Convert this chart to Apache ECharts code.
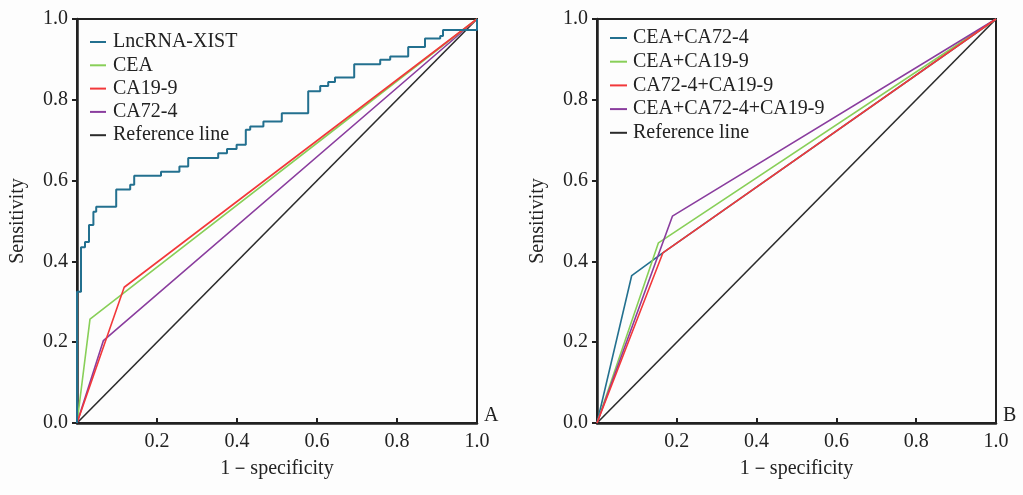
<!DOCTYPE html>
<html><head><meta charset="utf-8">
<script src="https://cdn.jsdelivr.net/npm/echarts@6/dist/echarts.min.js"></script>
<style>html,body{margin:0;padding:0;background:#fdfdfd}#c{width:1023px;height:495px}</style>
</head><body><div id="c"></div>
<script>
// ---- Data (1-specificity, sensitivity) ----
const xTicks = [0, 0.2, 0.4, 0.6, 0.8, 1.0];
const lncXIST = [[0,0],[0,0.325],[0.01,0.325],[0.01,0.435],[0.02,0.435],[0.02,0.448],[0.03,0.448],[0.03,0.49],[0.041,0.49],[0.041,0.523],[0.048,0.523],[0.048,0.535],[0.098,0.535],[0.098,0.578],[0.133,0.578],[0.133,0.590],[0.143,0.590],[0.143,0.612],[0.21,0.612],[0.21,0.622],[0.256,0.622],[0.256,0.635],[0.278,0.635],[0.278,0.656],[0.353,0.656],[0.353,0.668],[0.375,0.668],[0.375,0.678],[0.399,0.678],[0.399,0.689],[0.422,0.689],[0.422,0.726],[0.433,0.726],[0.433,0.734],[0.466,0.734],[0.466,0.746],[0.512,0.746],[0.512,0.767],[0.578,0.767],[0.578,0.821],[0.608,0.821],[0.608,0.834],[0.628,0.834],[0.628,0.844],[0.645,0.844],[0.645,0.855],[0.693,0.855],[0.693,0.888],[0.758,0.888],[0.758,0.899],[0.783,0.899],[0.783,0.907],[0.828,0.907],[0.828,0.931],[0.87,0.931],[0.87,0.952],[0.908,0.952],[0.908,0.958],[0.915,0.958],[0.915,0.973],[1,0.973],[1,1]];
const cea = [[0,0],[0.0325,0.257],[1,1]];
const ca199 = [[0,0],[0.118,0.336],[1,1]];
const ca724 = [[0,0],[0.066,0.204],[1,1]];
const refLine = [[0,0],[1,1]];
const ceaCa724 = [[0,0],[0.087,0.365],[0.165,0.421],[1,1]];
const ceaCa199 = [[0,0],[0.154,0.446],[1,1]];
const ca724Ca199 = [[0,0],[0.165,0.421],[1,1]];
const ceaCa724Ca199 = [[0,0],[0.189,0.512],[1,1]];
const namesA = ['LncRNA-XIST','CEA','CA19-9','CA72-4','Reference line'];
const namesB = ['CEA+CA72-4','CEA+CA19-9','CA72-4+CA19-9','CEA+CA72-4+CA19-9','Reference line'];

const C = {blue:'#23708f', green:'#88cf58', red:'#f2383a', purple:'#8a3d9e', black:'#2b2b2b'};
const font = 'Liberation Serif';
const fs = 20;

function xAx(gi){return {type:'value',gridIndex:gi,min:0,max:1,interval:0.2,
  name:'1－specificity',nameLocation:'middle',nameGap:36,nameTextStyle:{fontFamily:font,fontSize:fs,color:'#222'},
  axisLine:{onZero:false,lineStyle:{color:'#222',width:2.5}},
  axisTick:{inside:true,length:5,lineStyle:{color:'#222',width:2}},
  axisLabel:{fontFamily:font,fontSize:fs,color:'#222',margin:9,formatter:v=>v===0?'':v.toFixed(1)},
  splitLine:{show:false}};}
function yAx(gi){return {type:'value',gridIndex:gi,min:0,max:1,interval:0.2,
  name:'Sensitivity',nameLocation:'middle',nameGap:49,nameTextStyle:{fontFamily:font,fontSize:fs,color:'#222'},
  axisLine:{lineStyle:{color:'#222',width:2.5}},
  axisTick:{inside:false,length:5,lineStyle:{color:'#222',width:2}},
  axisLabel:{fontFamily:font,fontSize:fs,color:'#222',margin:9,formatter:v=>v.toFixed(1)},
  splitLine:{show:false}};}
function ser(name,data,color,gi,step){return {name,type:'line',xAxisIndex:gi,yAxisIndex:gi,data,
  showSymbol:false,symbol:'none',lineStyle:{color,width:step?2:1.6},itemStyle:{color},animation:false};}

const chart = echarts.init(document.getElementById('c'));
chart.setOption({
  backgroundColor:'#fdfdfd',
  animation:false,
  grid:[{left:77,top:19,width:400,height:404,show:true,borderColor:'#222',borderWidth:2,backgroundColor:'transparent'},
        {left:597,top:19,width:399,height:404,show:true,borderColor:'#222',borderWidth:2,backgroundColor:'transparent'}],
  xAxis:[xAx(0),xAx(1)],
  yAxis:[yAx(0),yAx(1)],
  legend:[
    {data:namesA,orient:'vertical',left:85,top:27,itemWidth:16,itemHeight:2,itemGap:3.3,icon:'rect',
     textStyle:{fontFamily:font,fontSize:fs,color:'#222',padding:[0,0,0,2]}},
    {data:namesB,orient:'vertical',left:605,top:23,itemWidth:17,itemHeight:2,itemGap:3.7,icon:'rect',
     textStyle:{fontFamily:font,fontSize:fs,color:'#222',padding:[0,0,0,1]}}
  ],
  graphic:[
    {type:'text',left:484,top:406,style:{text:'A',font:'20px "Liberation Serif"',fill:'#222'}},
    {type:'text',left:1003,top:406,style:{text:'B',font:'20px "Liberation Serif"',fill:'#222'}}
  ],
  series:[
    ser('Reference line',refLine,C.black,0),
    ser('CA72-4',ca724,C.purple,0),
    ser('CEA',cea,C.green,0),
    ser('CA19-9',ca199,C.red,0),
    ser('LncRNA-XIST',lncXIST,C.blue,0,true),
    ser('Reference line',refLine,C.black,1),
    ser('CEA+CA72-4',ceaCa724,C.blue,1),
    ser('CEA+CA19-9',ceaCa199,C.green,1),
    ser('CEA+CA72-4+CA19-9',ceaCa724Ca199,C.purple,1),
    ser('CA72-4+CA19-9',ca724Ca199,C.red,1)
  ]
});
</script></body></html>
